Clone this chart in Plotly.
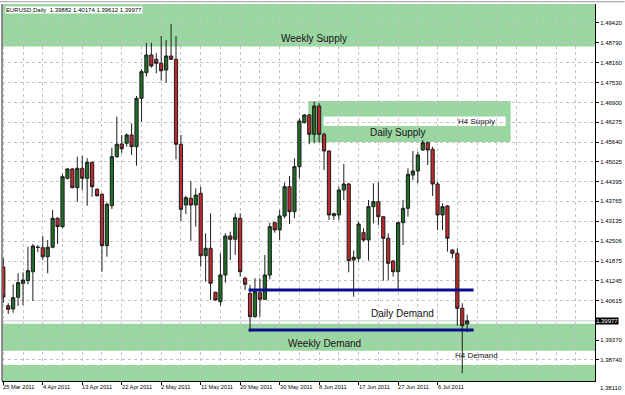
import plotly.graph_objects as go

# ---------------- data (EURUSD daily) ----------------
opens = [
    1.41685, 1.40458, 1.40354, 1.40725, 1.41168, 1.41251, 1.41536, 1.42305, 1.42297, 1.42012,
    1.42310, 1.43229, 1.42963, 1.44497, 1.44792, 1.44199, 1.44814, 1.44497, 1.45004, 1.44148,
    1.43990, 1.42360, 1.43628, 1.45182, 1.45584, 1.45606, 1.45870, 1.45499, 1.47033, 1.47844,
    1.48406, 1.48269, 1.48142, 1.47930, 1.48374, 1.48269, 1.45575, 1.43650, 1.43863, 1.43650,
    1.44021, 1.42043, 1.42278, 1.40883, 1.40585, 1.41432, 1.42668, 1.42563, 1.43229, 1.41327,
    1.40851, 1.40110, 1.40870, 1.40661, 1.41432, 1.43090, 1.42859, 1.43302, 1.44231, 1.43438,
    1.44865, 1.46259, 1.46504, 1.45892, 1.46789, 1.45892, 1.45362, 1.43311, 1.43334, 1.44126,
    1.44316, 1.41907, 1.41961, 1.42773, 1.42541, 1.43597, 1.43755, 1.43280, 1.42595, 1.41875,
    1.41536, 1.43090, 1.43546, 1.44601, 1.44728, 1.45394, 1.45625, 1.45416, 1.44316, 1.43334,
    1.43619, 1.42224, 1.42119, 1.40376, 1.39882]
highs = [
    1.41970, 1.40534, 1.41137, 1.41485, 1.41517, 1.42329, 1.42414, 1.42383, 1.42668, 1.42541,
    1.43492, 1.43260, 1.44633, 1.44820, 1.44820, 1.45182, 1.45204, 1.45131, 1.45030, 1.44180,
    1.44021, 1.43723, 1.45467, 1.46450, 1.45869, 1.45923, 1.46240, 1.47106, 1.47952, 1.48795,
    1.48795, 1.48459, 1.49008, 1.48881, 1.49388, 1.49008, 1.45870, 1.43945, 1.44412, 1.44180,
    1.44231, 1.42753, 1.43387, 1.40900, 1.42119, 1.42753, 1.42804, 1.43387, 1.43387, 1.41378,
    1.41115, 1.41327, 1.41327, 1.42066, 1.43090, 1.43122, 1.43492, 1.44358, 1.44570, 1.45131,
    1.46398, 1.46535, 1.46535, 1.46925, 1.46874, 1.45942, 1.45380, 1.43406, 1.44231, 1.44950,
    1.44358, 1.42202, 1.43121, 1.42912, 1.43809, 1.44338, 1.44389, 1.43302, 1.42753, 1.41907,
    1.43121, 1.43809, 1.44814, 1.45362, 1.45340, 1.45709, 1.45657, 1.45499, 1.44389, 1.43704,
    1.43651, 1.42246, 1.42278, 1.40534, 1.40174]
lows = [
    1.40544, 1.40195, 1.40236, 1.40449, 1.40481, 1.41137, 1.40607, 1.42151, 1.41907, 1.41485,
    1.42278, 1.42414, 1.42912, 1.44460, 1.44180, 1.43755, 1.44126, 1.43628, 1.43914, 1.43914,
    1.41536, 1.42012, 1.43524, 1.45150, 1.45289, 1.45499, 1.45236, 1.44896, 1.46291, 1.47718,
    1.48003, 1.47825, 1.47591, 1.47527, 1.48247, 1.45099, 1.43143, 1.43365, 1.42512, 1.42963,
    1.41695, 1.41219, 1.40639, 1.40620, 1.40458, 1.41187, 1.41907, 1.42066, 1.41378, 1.40956,
    1.39634, 1.40080, 1.40110, 1.40640, 1.41295, 1.42773, 1.42541, 1.43229, 1.43048, 1.43229,
    1.44497, 1.46240, 1.45575, 1.45606, 1.45625, 1.44760, 1.43175, 1.43175, 1.43175, 1.43809,
    1.41517, 1.40744, 1.41853, 1.42487, 1.41885, 1.43070, 1.43016, 1.41251, 1.41273, 1.41378,
    1.40990, 1.42383, 1.43280, 1.44443, 1.44338, 1.45362, 1.44918, 1.43936, 1.42858, 1.42858,
    1.42170, 1.41961, 1.39824, 1.38315, 1.39612]
closes = [
    1.40734, 1.40344, 1.40712, 1.41187, 1.41273, 1.41568, 1.42351, 1.42310, 1.42012, 1.42310,
    1.43229, 1.42963, 1.44548, 1.44792, 1.44199, 1.44814, 1.44497, 1.45004, 1.44231, 1.43945,
    1.42360, 1.43673, 1.45182, 1.45575, 1.45435, 1.45870, 1.45499, 1.47033, 1.47876, 1.48406,
    1.48057, 1.48142, 1.47908, 1.48374, 1.48269, 1.45575, 1.43514, 1.43882, 1.43650, 1.43968,
    1.42043, 1.42278, 1.41168, 1.40639, 1.41432, 1.42668, 1.42563, 1.43248, 1.41536, 1.41137,
    1.40110, 1.40902, 1.40661, 1.41432, 1.42963, 1.42859, 1.43302, 1.44231, 1.43438, 1.44865,
    1.46313, 1.46504, 1.45892, 1.46789, 1.45892, 1.45362, 1.43334, 1.43375, 1.44126, 1.44316,
    1.41885, 1.41993, 1.43048, 1.42541, 1.43597, 1.43755, 1.43280, 1.42595, 1.41802, 1.41536,
    1.43090, 1.43546, 1.44624, 1.44728, 1.45236, 1.45625, 1.45394, 1.44316, 1.43334, 1.43597,
    1.42595, 1.42119, 1.40376, 1.39824, 1.39977]

date_tick_labels = ["25 Mar 2011", "4 Apr 2011", "13 Apr 2011", "22 Apr 2011", "2 May 2011",
                    "11 May 2011", "20 May 2011", "30 May 2011", "8 Jun 2011", "17 Jun 2011",
                    "27 Jun 2011", "6 Jul 2011"]
date_tick_bars = [0, 8, 16, 24, 32, 40, 48, 56, 64, 72, 80, 88]

price_tick_labels = ["1.49420", "1.48790", "1.48160", "1.47530", "1.46900", "1.46275",
                     "1.45640", "1.45025", "1.44395", "1.43765", "1.43135", "1.42506",
                     "1.41875", "1.41245", "1.40615", "1.39370", "1.38740"]
bottom_price_label = "1.38110"

symbol_header = "EURUSD,Daily  1.39882 1.40174 1.39612 1.39977"
last_price = 1.39977

# zones (bar index, price)
weekly_supply_low = 1.48675
h4_supply_box = (61.8, 102.8, 1.45648, 1.46947)
h4_supply_gap = (64.9, 101.8, 1.46155, 1.46456)
weekly_demand_box = (1.39032, 1.39885)
weekly_demand_lower_top = 1.38579
daily_demand_levels = [1.40956, 1.39684]
daily_demand_span = (49.7, 95.3)

zone_labels = [
    ("Weekly Supply", 62.9, 1.48913, 10),
    ("Daily Supply", 79.9, 1.45949, 10),
    ("H4 Supply", 95.9, 1.46310, 8),
    ("Daily Demand", 80.9, 1.40211, 10),
    ("Weekly Demand", 65.1, 1.39260, 10),
    ("H4 Demand", 95.8, 1.38879, 8),
]

# ---------------- styling ----------------
ZONE = "#9ad6a0"
GRID = "#c4c4c4"
BLUE = "#0a0a8c"
UP = "#1f6e28"
DOWN = "#c3282e"
EDGE = "#1e1e1e"
FONT = "Liberation Sans, Arial, sans-serif"

x = list(range(len(opens)))

fig = go.Figure()
fig.add_trace(go.Candlestick(
    x=x, open=opens, high=highs, low=lows, close=closes,
    increasing=dict(line=dict(color=EDGE, width=1), fillcolor=UP),
    decreasing=dict(line=dict(color=EDGE, width=1), fillcolor=DOWN),
    whiskerwidth=0, hoverinfo="skip", showlegend=False,
))

shapes = []
# weekly supply
shapes.append(dict(type="rect", xref="paper", yref="y", x0=0, x1=1, y0=weekly_supply_low, y1=1.6,
                   fillcolor=ZONE, line=dict(width=0), layer="below"))
# h4 / daily supply
shapes.append(dict(type="rect", xref="x", yref="y", x0=h4_supply_box[0], x1=h4_supply_box[1],
                   y0=h4_supply_box[2], y1=h4_supply_box[3], fillcolor=ZONE, line=dict(width=0), layer="below"))
shapes.append(dict(type="rect", xref="x", yref="y", x0=h4_supply_gap[0], x1=h4_supply_gap[1],
                   y0=h4_supply_gap[2], y1=h4_supply_gap[3], fillcolor="white", line=dict(width=0), layer="below"))
# weekly demand
shapes.append(dict(type="rect", xref="paper", yref="y", x0=0, x1=1, y0=weekly_demand_box[0], y1=weekly_demand_box[1],
                   fillcolor=ZONE, line=dict(width=0), layer="below"))
shapes.append(dict(type="rect", xref="paper", yref="y", x0=0, x1=1, y0=1.2, y1=weekly_demand_lower_top,
                   fillcolor=ZONE, line=dict(width=0), layer="below"))
# bid line
shapes.append(dict(type="line", xref="paper", yref="y", x0=0, x1=1, y0=last_price, y1=last_price,
                   line=dict(color="#c8c8c8", width=1), layer="below"))
# daily demand lines
for lv in daily_demand_levels:
    shapes.append(dict(type="line", xref="x", yref="y", x0=daily_demand_span[0], x1=daily_demand_span[1],
                       y0=lv, y1=lv, line=dict(color=BLUE, width=3), layer="above"))
# frame
shapes.append(dict(type="line", xref="paper", yref="paper", x0=0, x1=0, y0=0, y1=1,
                   line=dict(color="#6e6e6e", width=1.5), layer="above"))
shapes.append(dict(type="line", xref="paper", yref="paper", x0=-0.01, x1=1.05, y0=1.006, y1=1.006,
                   line=dict(color="#9a9a9a", width=1), layer="above"))

annotations = []
for txt, xx, yy, fs in zone_labels:
    annotations.append(dict(text=txt, x=xx, y=yy, xref="x", yref="y", showarrow=False,
                            font=dict(family=FONT, size=fs, color="#141414")))
for lab, b in zip(date_tick_labels, date_tick_bars):
    annotations.append(dict(text=lab, x=b, y=0, xref="x", yref="paper", xanchor="left", yanchor="top",
                            xshift=-2, yshift=-1, showarrow=False,
                            font=dict(family=FONT, size=5.7, color="#000")))
annotations.append(dict(text=bottom_price_label, x=1, y=0, xref="paper", yref="paper", xanchor="left",
                        yanchor="middle", xshift=3, yshift=-7, showarrow=False,
                        font=dict(family=FONT, size=6, color="#000")))
annotations.append(dict(text=f"{last_price:.5f}", x=1, y=last_price, xref="paper", yref="y",
                        xanchor="left", yanchor="middle", xshift=0, showarrow=False, bgcolor="#000",
                        borderpad=0, font=dict(family=FONT, size=6, color="#fff")))
annotations.append(dict(text=symbol_header, x=0, y=1, xref="paper", yref="paper", xanchor="left",
                        yanchor="top", xshift=3, yshift=-2, showarrow=False, bgcolor="white",
                        borderpad=0, font=dict(family=FONT, size=6, color="#000")))

fig.update_layout(
    width=625, height=395,
    margin=dict(l=2, r=27, t=4, b=14),
    paper_bgcolor="white", plot_bgcolor="white",
    boxgap=0.35, boxgroupgap=0,
    shapes=shapes, annotations=annotations,
    showlegend=False,
    font=dict(family=FONT, size=6, color="#000"),
    xaxis=dict(
        range=[-0.26, 119.9], rangeslider=dict(visible=False),
        tickmode="array", tickvals=date_tick_bars, showticklabels=False,
        ticks="outside", ticklen=3, tickcolor="#000", tickwidth=1,
        showline=True, linecolor="#000", linewidth=1,
        showgrid=True, gridcolor=GRID, griddash="dot", gridwidth=1, zeroline=False,
        minor=dict(tickvals=list(range(0, 120, 4)), showgrid=True, gridcolor=GRID,
                   griddash="dot", gridwidth=1, ticks=""),
        fixedrange=True,
    ),
    yaxis=dict(
        side="right", range=[1.38071, 1.50022],
        tickmode="array", tickvals=[float(s) for s in price_tick_labels], ticktext=price_tick_labels,
        ticks="outside", ticklen=3, tickcolor="#000", tickwidth=1,
        tickfont=dict(family=FONT, size=6, color="#000"),
        showline=True, linecolor="#000", linewidth=1,
        showgrid=True, gridcolor=GRID, griddash="dot", gridwidth=1, zeroline=False,
        fixedrange=True,
    ),
)

fig.write_html("out.html")
